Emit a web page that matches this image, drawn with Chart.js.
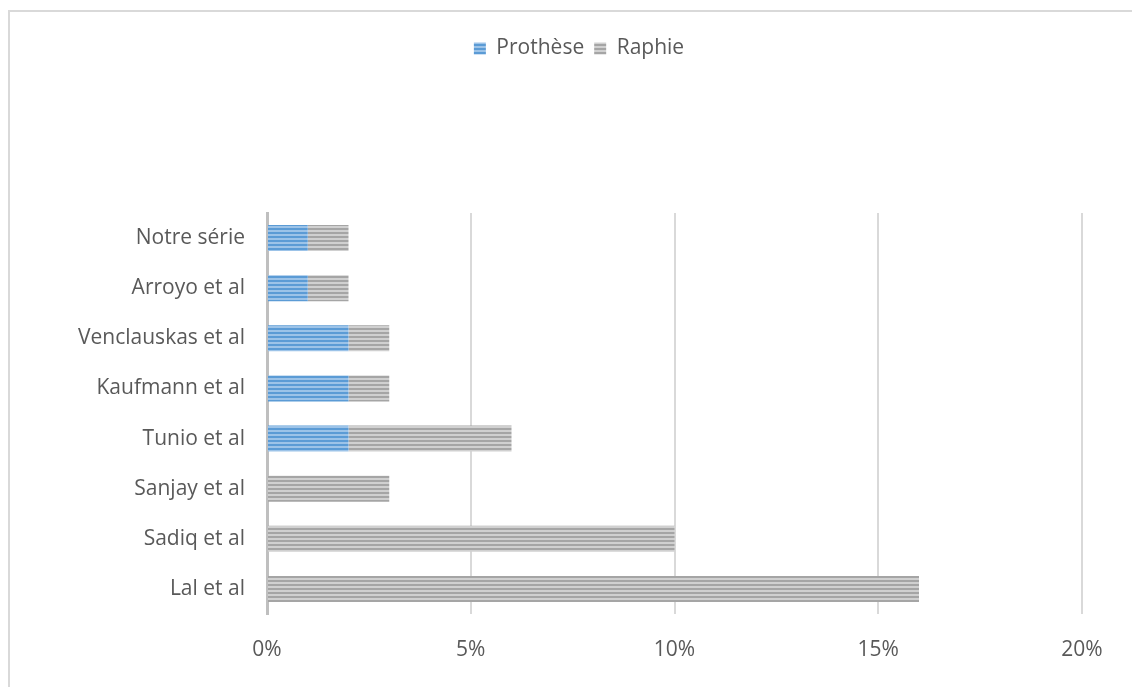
<!DOCTYPE html>
<html lang="fr">
<head>
    <meta charset="UTF-8">
    <title>chart</title>
    <script src="https://cdn.jsdelivr.net/npm/chart.js"></script>
    <style>
        html, body { margin: 0; padding: 0; background: #fff; }
        #wrap { position: relative; width: 1132px; height: 687px; overflow: hidden; }
        #frame { position: absolute; left: 8px; top: 10px; width: 1140px; height: 700px; border: 2px solid #d9d9d9; pointer-events: none; }
    </style>
</head>
<body>
    <div id="wrap">
        <canvas id="chart" width="1132" height="687"></canvas>
        <div id="frame"></div>
    </div>
    <script>
        const categories = ['Notre série', 'Arroyo et al', 'Venclauskas et al', 'Kaufmann et al', 'Tunio et al', 'Sanjay et al', 'Sadiq et al', 'Lal et al'];
        const prothese = [1, 1, 2, 2, 2, 0, 0, 0];
        const raphie = [1, 1, 1, 1, 4, 3, 10, 16];
        const xTicks = [0, 5, 10, 15, 20];

        // motif rayé horizontal
        function stripes(dark, light) {
            const c = document.createElement('canvas');
            c.width = 4; c.height = 4;
            const g = c.getContext('2d');
            g.fillStyle = dark; g.fillRect(0, 0, 4, 2);
            g.fillStyle = light; g.fillRect(0, 2, 4, 2);
            return g.createPattern(c, 'repeat');
        }

        Chart.defaults.font.family = '"Open Sans", sans-serif';
        Chart.defaults.font.size = 21;
        Chart.defaults.color = '#595959';

        // place libre sous la légende + décalage horizontal
        const legendSpace = {
            id: 'legendSpace',
            beforeInit(chart) {
                const fit = chart.legend.fit;
                chart.legend.fit = function () {
                    fit.bind(chart.legend)();
                    this.height += 144;
                };
            },
            afterLayout(chart) {
                chart.legend.left += 38;
                chart.legend.right += 38;
            }
        };

        const ctx = document.getElementById('chart').getContext('2d');
        new Chart(ctx, {
            type: 'bar',
            data: {
                labels: categories,
                datasets: [{
                    label: 'Prothèse',
                    data: prothese,
                    backgroundColor: stripes('#5b9bd5', '#9cc3e8'),
                    barPercentage: 0.52,
                    categoryPercentage: 1
                }, {
                    label: 'Raphie',
                    data: raphie,
                    backgroundColor: stripes('#a5a5a5', '#d0d0d0'),
                    barPercentage: 0.52,
                    categoryPercentage: 1
                }]
            },
            options: {
                indexAxis: 'y',
                responsive: false,
                animation: false,
                layout: { padding: { top: 28, right: 50, left: 0, bottom: 0 } },
                plugins: {
                    legend: {
                        position: 'top',
                        labels: { boxWidth: 12, boxHeight: 12, padding: 10 }
                    },
                    tooltip: { enabled: false }
                },
                scales: {
                    x: {
                        stacked: true,
                        min: 0,
                        max: 20,
                        afterBuildTicks: s => { s.ticks = xTicks.map(v => ({ value: v })); },
                        afterFit: s => { s.height = 73; },
                        ticks: { callback: v => v + '%', padding: 23 },
                        grid: { color: '#d9d9d9', lineWidth: 2, drawTicks: false },
                        border: { display: false }
                    },
                    y: {
                        stacked: true,
                        afterFit: s => { s.width = 267; },
                        ticks: { padding: 22 },
                        grid: { display: false, drawTicks: false },
                        border: { display: true, color: '#bfbfbf', width: 3 }
                    }
                }
            },
            plugins: [legendSpace]
        });
    </script>
</body>
</html>
